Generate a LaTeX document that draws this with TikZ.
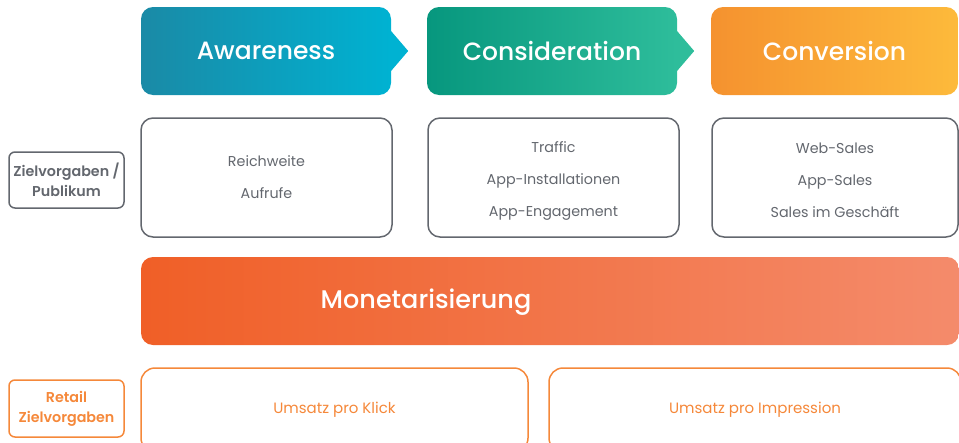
\documentclass[tikz,border=0pt]{standalone}
\usepackage{fontspec}
\setmainfont{Poppins}
\newfontfamily\mittel{Poppins Medium}
\newfontfamily\halbfett{Poppins SemiBold}
\usepackage{tikz}
\usetikzlibrary{shapes}
\usetikzlibrary{calc}

\definecolor{grau}{HTML}{63676E}
\definecolor{orang}{HTML}{F5883A}
\definecolor{awlinks}{HTML}{1A8AA6}
\definecolor{awrechts}{HTML}{00B2D2}
\definecolor{colinks}{HTML}{07977E}
\definecolor{corechts}{HTML}{2EBD9B}
\definecolor{cvlinks}{HTML}{F5922F}
\definecolor{cvrechts}{HTML}{FDBA3B}
\definecolor{monlinks}{HTML}{F05F27}
\definecolor{monrechts}{HTML}{F48B6B}

\tikzstyle{phase}=[
        rectangle,
        rounded corners=12pt,
        minimum width=250pt,
        minimum height=88pt
]
\tikzstyle{ziel}=[rectangle,draw=grau,line width=1.5pt,rounded corners=12pt,
minimum width=251pt,minimum height=119pt,text=grau,align=center,
font=\fontsize{14.3}{32}\selectfont]
\tikzstyle{links}=[rectangle,draw,line width=1.5pt,rounded corners=6pt,
minimum width=115pt,minimum height=56pt,align=center,inner sep=0pt,
font=\halbfett\fontsize{14.3}{20}\selectfont]
\tikzstyle{umsatz}=[rectangle,draw=orang,line width=1.5pt,rounded corners=14pt,
minimum height=84pt,text=orang,font=\fontsize{15}{18}\selectfont]
\tikzstyle{titel}=[text=white,font=\mittel\fontsize{25}{28}\selectfont]

\begin{document}
\begin{tikzpicture}[x=1pt,y=-1pt]
\useasboundingbox (0,0) rectangle (959,442);
\node[phase,left color=awlinks,right color=awrechts] (aw) at (266,51) {};
\node[phase,left color=colinks,right color=corechts] (co) at (552,51) {};
\node[phase,minimum width=247pt,left color=cvlinks,right color=cvrechts] (cv) at (834.5,51) {};
\node[titel] (awt) at (aw) {Awareness};
\node[titel] (cot) at (co) {Consideration};
\node[titel] (cvt) at (cv) {Conversion};
%Spitzen
\fill[awrechts] ($(aw.east)+(-1,-21)$) -- ($(aw.east)+(17,0)$) -- ($(aw.east)+(-1,21)$) -- cycle;
\fill[corechts] ($(co.east)+(-1,-21)$) -- ($(co.east)+(17,0)$) -- ($(co.east)+(-1,21)$) -- cycle;
%Zielvorgaben
\node[links,draw=grau,text=grau] (zp) at (66.5,180) {Zielvorgaben /\\Publikum};
\node[ziel] (aw2) at (266.5,177.5) {Reichweite\\Aufrufe};
\node[ziel] (co2) at (553.5,177.5) {};
\node[ziel] (cv2) at (835,177.5) [minimum width=246pt] {};
\node[text=grau,align=center,font=\fontsize{14.3}{32}\selectfont] (co2t) at ($(co2)+(0,3)$) {Traffic\\App-Installationen\\App-Engagement};
\node[text=grau,align=center,font=\fontsize{14.3}{32}\selectfont] (cv2t) at ($(cv2)+(0,3)$) {Web-Sales\\App-Sales\\Sales im Geschäft};
%Monetarisierung
\node[rectangle,rounded corners=12pt,minimum width=818pt,minimum height=88pt,
left color=monlinks,right color=monrechts] (mon) at (550,301) {};
\node[text=white,font=\mittel\fontsize{25.5}{28}\selectfont] (mont) at (426,302) {Monetarisierung};
%Retail
\node[links,draw=orang,text=orang,minimum height=57pt] (rz) at (66.5,408.5) {Retail\\Zielvorgaben};
\node[umsatz,minimum width=387pt] (k1) at (334.5,410) {Umsatz pro Klick};
\node[umsatz,minimum width=412pt] (k2) at (755,410) {Umsatz pro Impression};
\end{tikzpicture}
\end{document}
